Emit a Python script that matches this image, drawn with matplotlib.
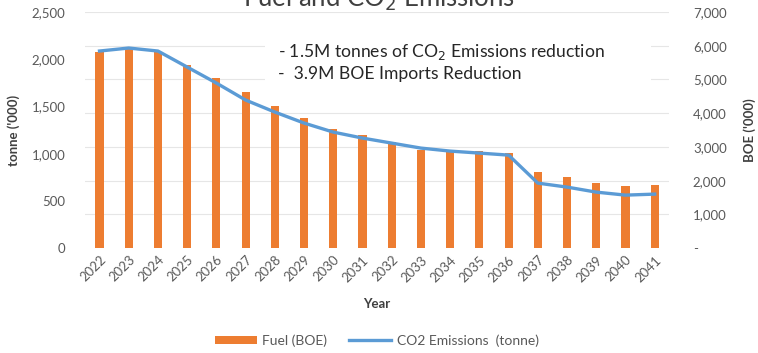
import matplotlib.pyplot as plt
from matplotlib.patches import Rectangle
from matplotlib.ticker import FuncFormatter

plt.rcParams['font.family'] = ['Lato', 'DejaVu Sans']

# data
years = [str(y) for y in range(2022, 2042)]
fuel_boe = [2080, 2118, 2075, 1938, 1800, 1652, 1504, 1377, 1260, 1197,
            1123, 1038, 1017, 1027, 1006, 805, 752, 688, 656, 667]
co2_tonne = [5843, 5932, 5843, 5368, 4894, 4390, 4034, 3708, 3440, 3263,
             3114, 2966, 2877, 2818, 2758, 1928, 1810, 1661, 1572, 1602]
notes = ['- 1.5M tonnes of CO$_2$ Emissions reduction',
         '-  3.9M BOE Imports Reduction']

GRAY = '#595959'
ORANGE = '#ED7D31'
BLUE = '#5B9BD5'

fig = plt.figure(figsize=(7.58, 3.53), dpi=100)
ax = fig.add_axes([0.112, 0.297, 0.771, 0.669])
ax2 = ax.twinx()

x = list(range(len(years)))
ax.bar(x, fuel_boe, width=0.28, color=ORANGE, zorder=3, label='Fuel (BOE)')
ax2.plot(x, co2_tonne, color=BLUE, lw=2.4, zorder=4,
         label='CO2 Emissions  (tonne)')

ax.set_xlim(-0.5, len(years) - 0.5)
ax.set_ylim(0, 2500)
ax.set_yticks(range(0, 2501, 500))
ax2.set_ylim(0, 7000)
ax2.set_yticks(range(0, 7001, 1000))

ax.yaxis.set_major_formatter(FuncFormatter(lambda v, p: f'{int(v):,}'))
ax2.yaxis.set_major_formatter(
    FuncFormatter(lambda v, p: '-' if v == 0 else f'{int(v):,}'))

ax.set_xticks(x)
ax.set_xticklabels(years, rotation=45, ha='right', rotation_mode='anchor')

# gridlines come from the right axis; draw them on the bottom axes so bars sit on top
for v in range(1000, 7001, 1000):
    ax.axhline(v * 2500 / 7000, color='#E6E6E6', lw=0.8, zorder=1)

# white box behind the notes (hides gridlines like the original text box)
ax2.add_patch(Rectangle((0.308, 0.66), 0.66, 0.22, transform=ax2.transAxes,
                        facecolor='white', edgecolor='none', zorder=2))

for a in (ax, ax2):
    for s in a.spines.values():
        s.set_visible(False)
    a.tick_params(length=0, colors=GRAY, labelsize=9.5)
ax.tick_params(axis='x', pad=4)
ax.tick_params(axis='y', pad=14)
ax2.tick_params(axis='y', pad=17)

ax.set_xlabel('Year', fontweight='bold', color='#404040', fontsize=9.5, labelpad=10)
ax.set_ylabel("tonne ('000)", fontweight='bold', color='#404040', fontsize=9.5, labelpad=8)
ax2.set_ylabel("BOE ('000)", fontweight='bold', color='#404040', fontsize=9.5, labelpad=12)

ax2.text(0.331, 0.83, notes[0], transform=ax2.transAxes, fontsize=12.6,
         color='#262626', va='center', zorder=5)
ax2.text(0.331, 0.737, notes[1], transform=ax2.transAxes, fontsize=12.6,
         color='#262626', va='center', zorder=5)

# title is partly cut by the top edge, as in the original
fig.text(0.5, 1.004, 'Fuel and CO$_2$ Emissions', ha='center', va='center',
         fontsize=18.5, color='#404040')

h1, l1 = ax.get_legend_handles_labels()
h2, l2 = ax2.get_legend_handles_labels()
fig.legend(h1 + h2, l1 + l2, loc='center', bbox_to_anchor=(0.497, 0.035),
           ncol=2, frameon=False, fontsize=10, labelcolor=GRAY,
           handlelength=3, handleheight=0.5, handletextpad=0.4,
           columnspacing=1.6)

fig.savefig('out.png', dpi=100)
